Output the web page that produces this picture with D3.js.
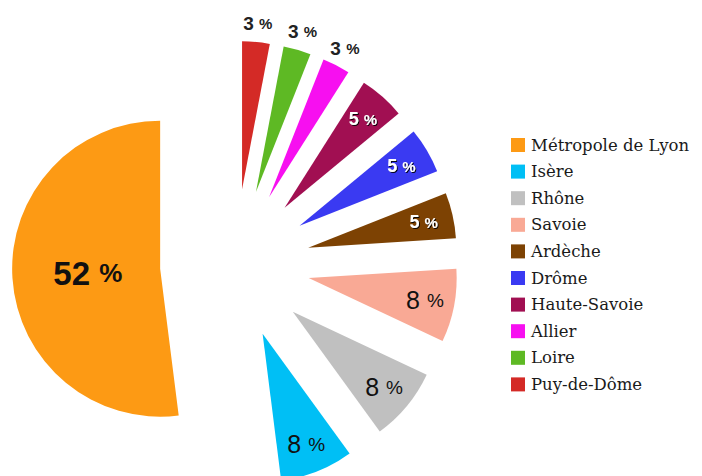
<!DOCTYPE html>
<html>
<head>
<meta charset="utf-8">
<script src="https://cdn.jsdelivr.net/npm/d3@7"></script>
<style>
  body { margin: 0; background: #fff; }
  svg { display: block; }
</style>
</head>
<body>
<div id="chart"></div>
<script>
// Data
const departements = ['Métropole de Lyon', 'Isère', 'Rhône', 'Savoie', 'Ardèche', 'Drôme', 'Haute-Savoie', 'Allier', 'Loire', 'Puy-de-Dôme'];
const shares = [52, 8, 8, 8, 5, 5, 5, 3, 3, 3];
const colours = ['#fd9a14', '#00bff5', '#c0c0c0', '#f9a995', '#7d4203', '#3a3af2', '#a10f52', '#f70ff0', '#5eb924', '#d42a26'];

const width = 702, height = 476;
const centre = { x: 235, y: 264 };
const radius = 148;
const explode = 75;

const svg = d3.select('#chart').append('svg')
  .attr('width', width)
  .attr('height', height);

// counter-clockwise from 12 o'clock
const pie = d3.pie().sort(null).startAngle(0).endAngle(-2 * Math.PI);
const arcs = pie(shares);
const arc = d3.arc().innerRadius(0).outerRadius(radius);

const offset = (a, dist) => [Math.sin(a) * dist, -Math.cos(a) * dist];

const slices = svg.append('g')
  .attr('transform', `translate(${centre.x},${centre.y})`);

const slice = slices.selectAll('g.slice')
  .data(arcs)
  .enter()
  .append('g')
  .attr('class', 'slice')
  .attr('transform', d => {
    const [dx, dy] = offset((d.startAngle + d.endAngle) / 2, explode);
    return `translate(${dx},${dy})`;
  });

slice.append('path')
  .attr('d', arc)
  .attr('fill', (d, i) => colours[i]);

// label placement & style depend on slice size
function labelStyle(v) {
  if (v >= 20) return { dist: radius * 0.49, size: 33, pct: 26, weight: 'bold', fill: '#111', shadow: false };
  if (v >= 8) return { dist: radius * 0.8, size: 25, pct: 19, weight: 'normal', fill: '#111', shadow: false };
  if (v >= 5) return { dist: radius * 0.8, size: 18, pct: 15, weight: 'bold', fill: '#fff', shadow: true };
  return { dist: radius * 1.13, size: 19, pct: 15, weight: 'bold', fill: '#222', shadow: false };
}

const defs = svg.append('defs');
const filter = defs.append('filter').attr('id', 'shadow').attr('x', '-20%').attr('y', '-20%').attr('width', '140%').attr('height', '140%');
filter.append('feDropShadow')
  .attr('dx', 1).attr('dy', 1).attr('stdDeviation', 0.6)
  .attr('flood-color', '#000').attr('flood-opacity', 0.9);

slice.each(function(d) {
  const s = labelStyle(d.data);
  const [x, y] = offset((d.startAngle + d.endAngle) / 2, s.dist);
  const t = d3.select(this).append('text')
    .attr('x', x)
    .attr('y', y)
    .attr('text-anchor', 'middle')
    .attr('dominant-baseline', 'central')
    .attr('font-family', 'Liberation Sans, Arial, sans-serif')
    .attr('font-weight', s.weight)
    .attr('fill', s.fill)
    .attr('filter', s.shadow ? 'url(#shadow)' : null);
  t.append('tspan').attr('font-size', s.size).text(d.data + ' ');
  t.append('tspan').attr('font-size', s.pct).text('%');
});

// Legend
const legend = svg.append('g')
  .attr('transform', 'translate(511,145)');
const rowH = 26.6;

const item = legend.selectAll('g.item')
  .data(departements)
  .enter()
  .append('g')
  .attr('class', 'item')
  .attr('transform', (d, i) => `translate(0,${i * rowH})`);

item.append('rect')
  .attr('x', 0)
  .attr('y', -7)
  .attr('width', 14)
  .attr('height', 14)
  .attr('fill', (d, i) => colours[i]);

item.append('text')
  .attr('x', 20)
  .attr('y', 0)
  .attr('dominant-baseline', 'central')
  .attr('font-family', 'DejaVu Serif, serif')
  .attr('font-size', 16.5)
  .attr('fill', '#1a1a1a')
  .text(d => d);
</script>
</body>
</html>
